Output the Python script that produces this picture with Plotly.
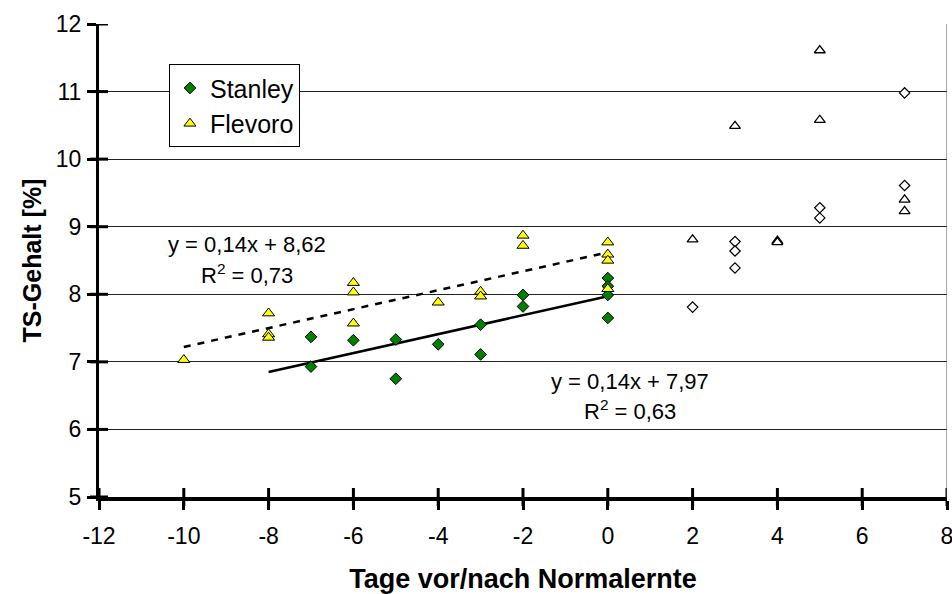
import plotly.graph_objects as go

# ---- data ----
stanley_x = [-7, -7, -6, -5, -5, -4, -3, -3, -2, -2, 0, 0, 0, 0]
stanley_y = [7.37, 6.93, 7.32, 7.33, 6.75, 7.26, 7.55, 7.11, 7.99, 7.82, 8.24, 8.12, 7.99, 7.65]

flevoro_x = [-10, -8, -8, -8, -6, -6, -6, -4, -3, -3, -2, -2, 0, 0, 0, 0]
flevoro_y = [7.03, 7.72, 7.41, 7.36, 8.17, 8.03, 7.57, 7.88, 8.04, 7.97, 8.87, 8.72, 8.77, 8.59, 8.50, 8.08]

stanley_after_x = [2, 3, 3, 3, 5, 5, 7, 7]
stanley_after_y = [7.81, 8.78, 8.64, 8.39, 9.28, 9.13, 10.98, 9.61]

flevoro_after_x = [2, 3, 4, 4, 5, 5, 7, 7]
flevoro_after_y = [8.81, 10.49, 8.79, 8.77, 11.61, 10.58, 9.40, 9.23]

# linear trend lines (Excel equations shown in the chart)
stanley_slope, stanley_intercept = 0.14, 7.97
flevoro_slope, flevoro_intercept = 0.14, 8.62
stanley_fit_x = [-8, 0]
flevoro_fit_x = [-10, 0]

stanley_eq = "y = 0,14x + 7,97"
stanley_r2 = "R<sup>2</sup> = 0,63"
flevoro_eq = "y = 0,14x + 8,62"
flevoro_r2 = "R<sup>2</sup> = 0,73"

x_ticks = [-12, -10, -8, -6, -4, -2, 0, 2, 4, 6, 8]
x_ticktext = ["-12", "-10", "-8", "-6", "-4", "-2", "0", "2", "4", "6", "8"]
y_ticks = [5, 6, 7, 8, 9, 10, 11, 12]
y_ticktext = ["5", "6", "7", "8", "9", "10", "11", "12"]

FONT = "Liberation Sans, Arial, Helvetica, sans-serif"

# plot-area size in px (for the crossing tick marks)
W, H = 952, 594
M = dict(l=99, r=5, t=24, b=97)
plot_w = W - M["l"] - M["r"]
plot_h = H - M["t"] - M["b"]
TICK_HALF = 9

fig = go.Figure()

# trend lines
fig.add_trace(go.Scatter(
    x=stanley_fit_x, y=[stanley_slope * v + stanley_intercept for v in stanley_fit_x],
    mode="lines", line=dict(color="black", width=2.5), showlegend=False, hoverinfo="skip"))
fig.add_trace(go.Scatter(
    x=flevoro_fit_x, y=[flevoro_slope * v + flevoro_intercept for v in flevoro_fit_x],
    mode="lines", line=dict(color="black", width=2.5, dash="7px,7px"), showlegend=False, hoverinfo="skip"))

# after-harvest (open) markers
fig.add_trace(go.Scatter(
    x=stanley_after_x, y=stanley_after_y, mode="markers", showlegend=False,
    marker=dict(symbol="diamond", size=8, color="white", line=dict(color="black", width=1.2))))
fig.add_trace(go.Scatter(
    x=flevoro_after_x, y=flevoro_after_y, mode="markers", showlegend=False,
    marker=dict(symbol="triangle-up", size=9.5, color="white", line=dict(color="black", width=1.3))))

# main series
fig.add_trace(go.Scatter(
    x=stanley_x, y=stanley_y, mode="markers", name="Stanley", legendgroup="a",
    marker=dict(symbol="diamond", size=9, color="#008000", line=dict(color="black", width=1))))
fig.add_trace(go.Scatter(
    x=flevoro_x, y=flevoro_y, mode="markers", name="Flevoro", legendgroup="b",
    marker=dict(symbol="triangle-up", size=10.5, color="#FFFF00", line=dict(color="black", width=1))))

annots = [
    dict(x=-8.5, y=8.73, text=flevoro_eq),
    dict(x=-8.5, y=8.30, text=flevoro_r2),
    dict(x=0.52, y=6.71, text=stanley_eq),
    dict(x=0.52, y=6.29, text=stanley_r2),
]
for a in annots:
    a.update(xref="x", yref="y", showarrow=False, xanchor="center", yanchor="middle",
             font=dict(family=FONT, size=22, color="black"))

# crossing tick marks, one per axis tick (drawn across the axis line)
shapes = []
for v in x_ticks:
    shapes.append(dict(type="line", xref="x", yref="paper", x0=v, x1=v,
                       y0=-TICK_HALF / plot_h, y1=TICK_HALF / plot_h,
                       line=dict(color="black", width=3)))
for v in y_ticks:
    shapes.append(dict(type="line", xref="paper", yref="y", x0=-TICK_HALF / plot_w,
                       x1=TICK_HALF / plot_w, y0=v, y1=v, line=dict(color="black", width=3)))
# right border of the plot area
shapes.append(dict(type="line", xref="x", yref="paper", x0=x_ticks[-1], x1=x_ticks[-1], y0=0, y1=1,
                   line=dict(color="#555", width=1)))

fig.update_layout(
    width=W, height=H,
    margin=M,
    paper_bgcolor="white", plot_bgcolor="white",
    font=dict(family=FONT, size=23, color="black"),
    xaxis=dict(range=[-12, 8], tickvals=x_ticks, ticktext=x_ticktext, ticks="outside",
               ticklen=TICK_HALF, tickwidth=3, tickcolor="black", showline=True, linewidth=4,
               linecolor="black", showgrid=False, zeroline=False, ticklabelstandoff=6,
               ticklabeloverflow="allow", automargin=False, tickfont=dict(size=23),
               title=dict(text="<b>Tage vor/nach Normalernte</b>", font=dict(size=27), standoff=23)),
    yaxis=dict(range=[5, 12], tickvals=y_ticks, ticktext=y_ticktext, ticks="outside",
               ticklen=TICK_HALF, tickwidth=3, tickcolor="black", showline=True, linewidth=3,
               linecolor="black", showgrid=True, gridcolor="#222", gridwidth=1,
               zeroline=False, ticklabelstandoff=1, ticklabeloverflow="allow",
               automargin=False, tickfont=dict(size=23),
               title=dict(text="<b>TS-Gehalt [%]</b>", font=dict(size=25), standoff=8)),
    legend=dict(x=0.0825, y=0.915, xanchor="left", yanchor="top",
                bgcolor="white", bordercolor="black", borderwidth=1,
                font=dict(family=FONT, size=25), itemwidth=30,
                traceorder="normal", tracegroupgap=4),
    annotations=annots,
    shapes=shapes,
)

fig.write_html("out.html")
